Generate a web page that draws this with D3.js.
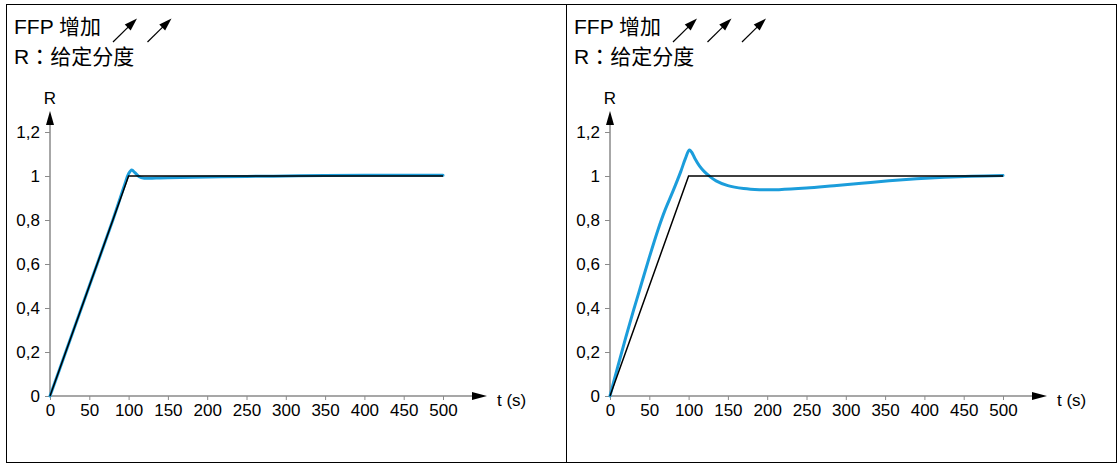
<!DOCTYPE html>
<html>
<head>
<meta charset="utf-8">
<script src="https://cdn.jsdelivr.net/npm/d3@7"></script>
<style>
  body { margin: 0; background: #fff; }
  svg { display: block; }
  text { font-family: "Liberation Sans", Arial, "Noto Sans CJK SC", sans-serif; }
</style>
</head>
<body>
<svg id="chart" width="1119" height="464"></svg>
<script>
// Axis ticks
const timeTicks = [0, 50, 100, 150, 200, 250, 300, 350, 400, 450, 500];
const rTicks = [0, 0.2, 0.4, 0.6, 0.8, 1, 1.2];

// Setpoint ramp (reference)
const setpointT = [0, 100, 500];
const setpointR = [0, 1, 1];

// Response with small FFP increase (left panel)
const leftT = [0, 20, 50, 80, 95, 100, 104, 108, 113, 120, 135, 150, 200, 250, 300, 350, 400, 450, 500];
const leftR = [0, 0.2, 0.5, 0.8, 0.96, 1.01, 1.027, 1.015, 0.998, 0.99, 0.991, 0.992, 0.995, 0.998, 1.0, 1.002, 1.003, 1.003, 1.003];

// Response with larger FFP increase (right panel)
const rightT = [0, 10, 20, 30, 40, 50, 61, 70, 80, 90, 96, 101, 104, 108, 114, 120, 127, 135, 150, 170, 190, 215, 250, 285, 320, 355, 390, 425, 460, 500];
const rightR = [0, 0.135, 0.265, 0.39, 0.51, 0.63, 0.755, 0.845, 0.93, 1.02, 1.08, 1.118, 1.108, 1.08, 1.045, 1.02, 0.998, 0.978, 0.956, 0.943, 0.938, 0.938, 0.945, 0.956, 0.967, 0.978, 0.987, 0.994, 0.999, 1.002];

const titleLine = "FFP 增加";
const subtitleR = "R";
const subtitleColon = "：";
const subtitleText = "给定分度";
const yLabel = "R";
const xLabel = "t (s)";

const svg = d3.select("#chart");
const blue = "#1b9ddb";
const axisGrey = "#8a8a8a";

// Frame and divider
svg.append("rect").attr("x", 6.5).attr("y", 4.5).attr("width", 1110).attr("height", 458)
  .attr("fill", "none").attr("stroke", "#000").attr("stroke-width", 1);
svg.append("line").attr("x1", 566.5).attr("x2", 566.5).attr("y1", 4.5).attr("y2", 462.5)
  .attr("stroke", "#000").attr("stroke-width", 1);

function drawArrowIcon(g, x0, y0, x1, y1) {
  // thin shaft with filled head pointing up-right
  const ang = Math.atan2(y1 - y0, x1 - x0);
  const headLen = 13, headW = 4.2;
  const bx = x1 - headLen * Math.cos(ang), by = y1 - headLen * Math.sin(ang);
  g.append("line").attr("x1", x0).attr("y1", y0).attr("x2", bx + 2 * Math.cos(ang)).attr("y2", by + 2 * Math.sin(ang))
    .attr("stroke", "#000").attr("stroke-width", 1.2);
  const px = -Math.sin(ang) * headW, py = Math.cos(ang) * headW;
  g.append("path")
    .attr("d", `M${x1},${y1} L${bx + px},${by + py} L${bx - px},${by - py} Z`)
    .attr("fill", "#000");
}

function drawPanel(offsetX, respT, respR, nArrows) {
  const g = svg.append("g").attr("transform", `translate(${offsetX},0)`);

  const x = d3.scaleLinear().domain([0, 500]).range([50, 443]);
  const y = d3.scaleLinear().domain([0, 1]).range([396, 176]);

  // Titles
  g.append("text").attr("x", 14).attr("y", 34).attr("font-size", 21).text(titleLine);
  const sub = g.append("text").attr("x", 14).attr("y", 64).attr("font-size", 21);
  sub.append("tspan").text(subtitleR);
  sub.append("tspan").attr("font-family", "Noto Sans CJK JP").text(subtitleColon);
  sub.append("tspan").text(subtitleText);
  for (let i = 0; i < nArrows; i++) {
    const sx = 113 + i * 34.5;
    drawArrowIcon(g, sx, 42, sx + 24, 18.5);
  }

  // Y axis
  const yAxis = d3.axisLeft(y).tickValues(rTicks).tickSize(5).tickPadding(5)
    .tickFormat(d => String(+d.toFixed(1)).replace(".", ","));
  const ya = g.append("g").attr("transform", `translate(${x(0)},0)`).call(yAxis);
  ya.select(".domain").remove();
  ya.selectAll(".tick line").attr("stroke", axisGrey);
  ya.selectAll(".tick text").attr("font-size", 17).attr("fill", "#000")
    .attr("font-family", "Liberation Sans, Arial, sans-serif");

  // X axis
  const xAxis = d3.axisBottom(x).tickValues(timeTicks).tickSize(4).tickPadding(4);
  const xa = g.append("g").attr("transform", `translate(0,${y(0)})`).call(xAxis);
  xa.select(".domain").remove();
  xa.selectAll(".tick line").attr("stroke", axisGrey);
  xa.selectAll(".tick text").attr("font-size", 17).attr("fill", "#000")
    .attr("font-family", "Liberation Sans, Arial, sans-serif");

  // Axis lines with arrowheads
  g.append("line").attr("x1", x(0)).attr("x2", x(0)).attr("y1", y(0)).attr("y2", 124)
    .attr("stroke", axisGrey).attr("stroke-width", 1.5);
  g.append("path").attr("d", `M${x(0)},111 L${x(0) - 4},125 L${x(0) + 4},125 Z`).attr("fill", "#000");
  g.append("line").attr("x1", x(0)).attr("x2", 473).attr("y1", y(0)).attr("y2", y(0))
    .attr("stroke", axisGrey).attr("stroke-width", 1.5);
  g.append("path").attr("d", `M487,${y(0)} L472,${y(0) - 4} L472,${y(0) + 4} Z`).attr("fill", "#000");

  g.append("text").attr("x", x(0)).attr("y", 104).attr("text-anchor", "middle")
    .attr("font-size", 17).text(yLabel);
  g.append("text").attr("x", 497).attr("y", 406).attr("font-size", 17).text(xLabel);

  // Response curve
  const resp = respT.map((t, i) => [t, respR[i]]);
  g.append("path").datum(resp)
    .attr("d", d3.line().x(d => x(d[0])).y(d => y(d[1])).curve(d3.curveCatmullRom.alpha(0.5)))
    .attr("fill", "none").attr("stroke", blue).attr("stroke-width", 3)
    .attr("stroke-linejoin", "round").attr("stroke-linecap", "round");

  // Setpoint
  const sp = setpointT.map((t, i) => [t, setpointR[i]]);
  g.append("path").datum(sp)
    .attr("d", d3.line().x(d => x(d[0])).y(d => y(d[1])))
    .attr("fill", "none").attr("stroke", "#000").attr("stroke-width", 1.5);
}

drawPanel(0, leftT, leftR, 2);
drawPanel(560, rightT, rightR, 3);
</script>
</body>
</html>
